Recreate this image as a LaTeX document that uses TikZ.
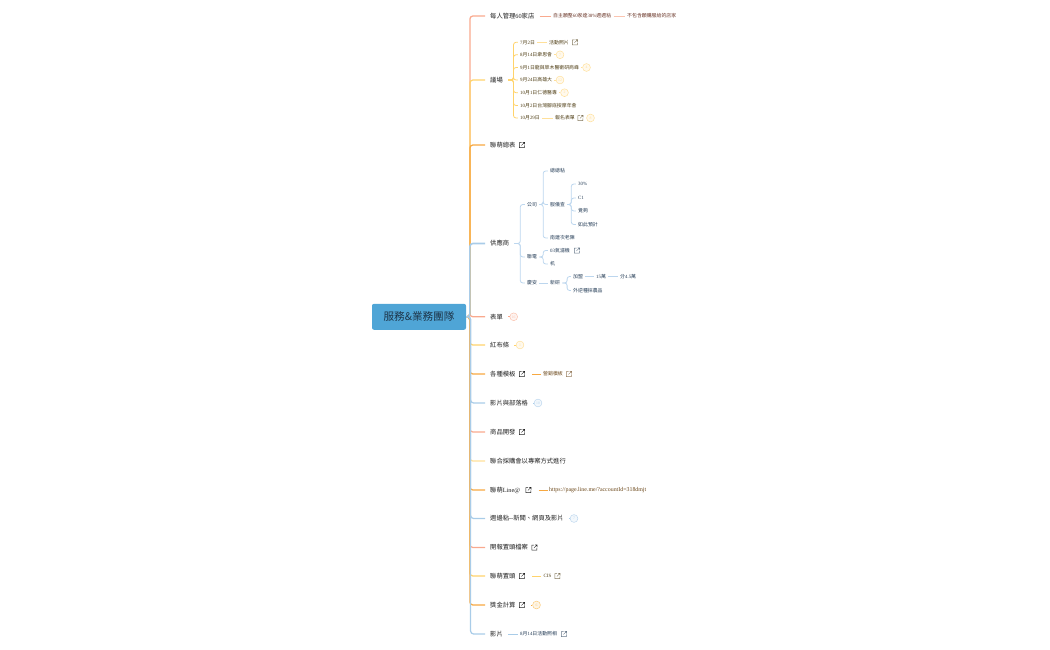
\documentclass[tikz,border=0pt]{standalone}
\usepackage{fontspec}
\setmainfont{Noto Sans CJK TC}
\newfontfamily\latn{Liberation Serif}
\usetikzlibrary{calc}
\definecolor{sal}{HTML}{F9A98E}
\definecolor{yel}{HTML}{FFD36B}
\definecolor{org}{HTML}{F7A840}
\definecolor{blu}{HTML}{A9CCE8}
\definecolor{palesal}{HTML}{FBC4B0}
\definecolor{paleyel}{HTML}{FFE09A}
\definecolor{paleblu}{HTML}{BCD6EE}
\definecolor{rootfill}{HTML}{4FA5D6}
\definecolor{roottext}{HTML}{1D3448}
\definecolor{txtone}{HTML}{202020}
\definecolor{txtyel}{HTML}{4E3D14}
\definecolor{txtsal}{HTML}{6A3628}
\definecolor{txtorg}{HTML}{6A4618}
\definecolor{txtblu}{HTML}{243C56}
\newcommand\nd[5]{\node[#4] (#1) at (#2,#3) {#5};}
\newcommand\trunkto[2]{\draw[mainlink,#2] (root.east) -- (tk) |- (#1.west);}
\newcommand\trunkright[2]{\draw[mainlink,#2] (root.east) -- (tkb) |- (#1.west);}
\newcommand\forkto[4]{\draw[sublink,#4] (#1.east) -- ++(#3,0) |- (#2.west);}
\newcommand\lineto[3]{\draw[sublink,#3] (#1.east) -- (#2.west);}
\newcommand\iconto[3]{\draw[sublink,#3,shorten <=6.5pt] (#1.east) -- (#2.west);}
\begin{document}
\begin{tikzpicture}[x=1pt,y=-1pt,
  mainlink/.style={line width=1.25pt,rounded corners=3pt},
  sublink/.style={line width=.8pt,rounded corners=2.5pt},
  rootbox/.style={draw=none,fill=rootfill,rounded corners=2pt,minimum width=94pt,minimum height=26pt,inner sep=0pt,text=roottext,font=\fontsize{10.6}{13}\selectfont},
  lone/.style={anchor=west,inner xsep=5pt,inner ysep=1pt,xshift=-5pt,text=txtone,font=\fontsize{6.3}{7}\selectfont},
  ltwo/.style={anchor=west,inner xsep=2.2pt,inner ysep=1pt,xshift=-2.2pt,text=#1,font=\fontsize{4.9}{6}\selectfont},
  urlt/.style={anchor=west,inner xsep=1.5pt,inner ysep=1pt,xshift=-1.5pt,text=#1,font=\fontsize{5.9}{6}\latn},
  linkicon/.style={anchor=center,inner sep=0pt,minimum size=7pt,path picture={
    \draw[line width=.45pt,#1,shift={(path picture bounding box.center)},scale=.85]
      (-.3,-2.4) -- (-2.6,-2.4) -- (-2.6,2.6) -- (2.4,2.6) -- (2.4,.3)
      (-.6,.4) -- (2.6,-2.6) (.5,-2.7) -- (2.7,-2.7) -- (2.7,-.5);}},
  badge/.style={circle,draw=#1,line width=.5pt,fill=#1!18,inner sep=0pt,minimum size=7.8pt,text=#1,font=\fontsize{3.8}{4}\latn},
]
\useasboundingbox (0,0) rectangle (1050,650);
\node[rootbox] (root) at (419,316.8) {服務\&業務團隊};
\coordinate (tk) at (469.9,316.8);
\coordinate (tkb) at (470.6,316.8);

% level one
\nd{a1}{490}{16}{lone}{每人管理{\latn 60}家店}
\nd{a2}{490}{80}{lone}{議場}
\nd{a3}{490}{145}{lone}{聯萌總表}
\nd{a4}{490}{243.5}{lone}{供應商}
\nd{a5}{490}{316.8}{lone}{表單}
\nd{a6}{490}{345}{lone}{紅布條}
\nd{a7}{490}{374}{lone}{各種模板}
\nd{a8}{490}{403}{lone}{影片與部落格}
\nd{a9}{490}{432}{lone}{商品開發}
\nd{a10}{490}{461}{lone}{聯合採購會以專案方式進行}
\nd{a11}{490}{490}{lone}{聯萌{\latn Line@}}
\nd{a12}{490}{518.5}{lone}{週邊粘{\latn --}新聞、網頁及影片}
\nd{a13}{490}{547.5}{lone}{開報置頭檔案}
\nd{a14}{490}{576}{lone}{聯萌置頭}
\nd{a15}{490}{605}{lone}{獎金計算}
\nd{a16}{490}{634}{lone}{影片}

\trunkto{a5}{sal}
\trunkto{a6}{yel}
\trunkto{a7}{org}
\trunkto{a9}{sal}
\trunkto{a10}{paleyel}
\trunkto{a11}{org}
\trunkto{a13}{sal}
\trunkto{a14}{yel}
\trunkto{a15}{org}
\trunkright{a8}{blu}
\trunkright{a12}{blu}
\trunkright{a16}{blu}
\trunkto{a1}{sal}
\trunkto{a2}{yel}
\trunkto{a3}{org}
\trunkto{a4}{blu,line width=1.6pt}

% branch 1
\nd{a1x}{553}{16}{ltwo=txtsal}{自主願整{\latn 60}家達{\latn 38\%}週週粘}
\nd{a1y}{627}{16}{ltwo=txtsal}{不包含願購服給的店家}
\lineto{a1}{a1x}{sal}
\lineto{a1x}{a1y}{palesal}

% branch 2
\nd{b1}{520}{42.3}{ltwo=txtyel}{{\latn 7}月{\latn 2}日}
\nd{b1a}{549}{42.3}{ltwo=txtyel}{活動照片}
\node[linkicon=txtyel!70] (b1i) at (575,42.3) {};
\nd{b2}{520}{54.8}{ltwo=txtyel}{{\latn 8}月{\latn 14}日衆思會}
\node[badge=paleyel] (b2b) at (560,54.8) {7};
\nd{b3}{520}{67.5}{ltwo=txtyel}{{\latn 9}月{\latn 1}日龍與草木醫衛研商峰}
\node[badge=paleyel] (b3b) at (586.5,67.5) {4};
\nd{b4}{520}{80}{ltwo=txtyel}{{\latn 9}月{\latn 24}日高雄大}
\node[badge=paleyel] (b4b) at (560,80) {12};
\nd{b5}{520}{92.7}{ltwo=txtyel}{{\latn 10}月{\latn 1}日仁德醫專}
\node[badge=paleyel] (b5b) at (564.5,92.7) {2};
\nd{b6}{520}{105.5}{ltwo=txtyel}{{\latn 10}月{\latn 2}日台灣腳底按摩年會}
\nd{b7}{520}{118}{ltwo=txtyel}{{\latn 10}月{\latn 29}日}
\nd{b7a}{555}{118}{ltwo=txtyel}{報名表單}
\node[linkicon=txtyel!70] (b7i) at (580.5,118) {};
\node[badge=paleyel] (b7b) at (590.5,118) {8};
\foreach \k in {b1,b2,b3,b4,b5,b6,b7}{\forkto{a2}{\k}{5.5}{yel}}
\lineto{b1}{b1a}{paleyel}
\lineto{b2}{b2b}{paleyel}
\lineto{b3}{b3b}{paleyel}
\lineto{b4}{b4b}{paleyel}
\lineto{b5}{b5b}{paleyel}
\lineto{b7}{b7a}{paleyel}

% icons level one
\node[linkicon=txtone] (a3i) at (522,145) {};
\node[linkicon=txtone] (a7i) at (522,374) {};
\node[linkicon=txtone] (a9i) at (522,432) {};
\node[linkicon=txtone] (a11i) at (528.5,490) {};
\node[linkicon=txtone] (a13i) at (534.5,547.5) {};
\node[linkicon=txtone] (a14i) at (522,576) {};
\node[linkicon=txtone] (a15i) at (522,605) {};

% branch 4
\nd{c1}{527}{204.5}{ltwo=txtblu}{公司}
\nd{c2}{527}{257}{ltwo=txtblu}{聯電}
\nd{c3}{527}{283}{ltwo=txtblu}{慶安}
\foreach \k in {c1,c2,c3}{\forkto{a4}{\k}{6}{paleblu}}
\nd{d1}{550}{171}{ltwo=txtblu}{總總粘}
\nd{d2}{550}{204.5}{ltwo=txtblu}{服儀查}
\nd{d3}{550}{238}{ltwo=txtblu}{南建次老陳}
\foreach \k in {d1,d2,d3}{\forkto{c1}{\k}{3.8}{paleblu}}
\nd{e1}{578}{184}{ltwo=txtblu}{\latn 30\%}
\nd{e2}{578}{198}{ltwo=txtblu}{\latn C1}
\nd{e3}{578}{211}{ltwo=txtblu}{覺夠}
\nd{e4}{578}{224.5}{ltwo=txtblu}{如此預計}
\foreach \k in {e1,e2,e3,e4}{\forkto{d2}{\k}{4}{paleblu}}
\nd{f1}{550}{250.5}{ltwo=txtblu}{{\latn 03}氣濾機}
\node[linkicon=txtblu!70] (f1i) at (577,250.5) {};
\nd{f2}{550}{264}{ltwo=txtblu}{机}
\foreach \k in {f1,f2}{\forkto{c2}{\k}{3.8}{paleblu}}
\nd{g1}{550}{283}{ltwo=txtblu}{新研}
\lineto{c3}{g1}{paleblu}
\nd{h1}{573}{276.5}{ltwo=txtblu}{加盟}
\nd{h2}{573}{290.5}{ltwo=txtblu}{外逆種採農品}
\foreach \k in {h1,h2}{\forkto{g1}{\k}{4.7}{paleblu}}
\nd{h3}{596}{276.5}{ltwo=txtblu}{{\latn 15}萬}
\nd{h4}{620}{276.5}{ltwo=txtblu}{分{\latn 4.5}萬}
\lineto{h1}{h3}{paleblu}
\lineto{h3}{h4}{paleblu}

% lower branches
\node[badge=palesal] (a5b) at (513.7,316.8) {16};
\draw[sublink,sal] (a5.east) -- (a5b.west);
\node[badge=paleyel] (a6b) at (520,345) {1};
\draw[sublink,yel] (a6.east) -- (a6b.west);
\nd{a7x}{543}{374}{ltwo=txtorg}{營銷模板}
\node[linkicon=txtorg!70] (a7xi) at (569,374) {};
\iconto{a7i}{a7x}{org}
\node[badge=paleblu] (a8b) at (538,403) {10};
\draw[sublink,blu] (a8.east) -- (a8b.west);
\nd{a11x}{549}{490}{urlt=txtorg}{https://page.line.me/?accountId=318dmjt}
\iconto{a11i}{a11x}{org}
\node[badge=paleblu] (a12b) at (574,518.5) {7};
\draw[sublink,blu] (a12.east) -- (a12b.west);
\nd{a14x}{543.5}{576}{ltwo=txtyel}{\latn CIS}
\node[linkicon=txtyel!70] (a14xi) at (557.5,576) {};
\iconto{a14i}{a14x}{yel}
\node[badge=paleyel!60!org] (a15b) at (536.5,605) {6};
\draw[sublink,org,shorten <=5.5pt] (a15i.east) -- (a15b.west);
\nd{a16x}{520}{634}{ltwo=txtblu}{{\latn 8}月{\latn 14}日活動照相}
\node[linkicon=txtblu!70] (a16xi) at (564,634) {};
\lineto{a16}{a16x}{blu}
\end{tikzpicture}
\end{document}
